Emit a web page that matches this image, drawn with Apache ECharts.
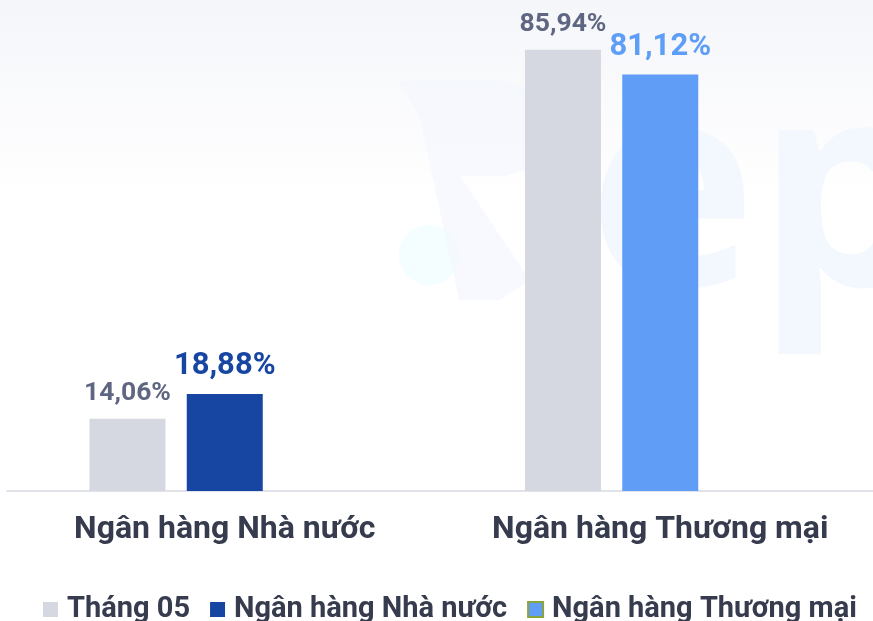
<!DOCTYPE html>
<html>
<head>
<meta charset="utf-8">
<script src="https://cdn.jsdelivr.net/npm/echarts@6/dist/echarts.min.js"></script>
<style>
html,body{margin:0;padding:0;background:#fff;}
#c{width:873px;height:621px;}
</style>
</head>
<body>
<div id="c"></div>
<script>
const categories = ['Ngân hàng Nhà nước', 'Ngân hàng Thương mại'];
const seriesNames = ['Tháng 05', 'Ngân hàng Nhà nước', 'Ngân hàng Thương mại'];
const thang05 = [14.06, 85.94];
const nhaNuoc = [18.88, '-'];
const thuongMai = ['-', 81.12];
const placeholder = ['-', '-'];

const fmt = p => p.value.toFixed(2).replace('.', ',') + '%';
const chart = echarts.init(document.getElementById('c'), null, {renderer: 'canvas'});
const FONT = 'Roboto';

chart.setOption({
  backgroundColor: '#ffffff',
  animation: false,
  textStyle: {fontFamily: FONT},
  graphic: [
    {type: 'rect', z: -10, silent: true, shape: {x: 0, y: 0, width: 873, height: 200},
      style: {fill: new echarts.graphic.LinearGradient(0, 0, 0, 1, [
        {offset: 0, color: '#f5f6fa'}, {offset: 1, color: '#ffffff'}])}},
    {type: 'circle', z: -9, silent: true, shape: {cx: 429, cy: 255, r: 30}, style: {fill: '#f4fdff'}},
    {type: 'polygon', z: -9, silent: true, shape: {points: [[399, 81], [505, 81], [530, 90], [545, 115], [545, 150], [530, 168], [505, 176], [460, 176], [530, 280], [500, 300], [459, 300], [420, 118], [399, 81]]}, style: {fill: '#f3f7fe', opacity: 0.7}},
    {type: 'text', z: -9, silent: true, left: 588, top: 62, style: {text: 'ep', font: 'bold 285px "Open Sans"', fill: '#f3f7fe'}}
  ],
  legend: {
    data: [
      {name: seriesNames[0]},
      {name: seriesNames[1]},
      {name: seriesNames[2], itemStyle: {borderColor: '#8aa43c', borderWidth: 2}}
    ],
    left: 38,
    top: 590,
    icon: 'rect',
    itemWidth: 15,
    itemHeight: 15,
    itemGap: 20,
    textStyle: {fontSize: 29, fontWeight: 'bold', color: '#363c4e', fontFamily: FONT, padding: [0, 0, 0, 4]}
  },
  grid: {left: 7, width: 871, top: 29, bottom: 130, containLabel: false, outerBoundsMode: 'none'},
  xAxis: {
    type: 'category',
    data: categories,
    axisLine: {show: true, lineStyle: {color: '#e2e3ea', width: 2}},
    axisTick: {show: false},
    axisLabel: {interval: 0, hideOverlap: false, fontSize: 32, fontWeight: 'bold', color: '#363c4e', margin: 23, fontFamily: FONT}
  },
  yAxis: {
    type: 'value', min: 0, max: 90,
    show: false,
    splitLine: {show: false}
  },
  series: [
    {name: seriesNames[0], type: 'bar', data: thang05, barWidth: 76, barGap: '28%',
      itemStyle: {color: '#d5d8e1'},
      label: {show: true, position: 'top', distance: 12, formatter: fmt, fontSize: 26.5, fontWeight: 'bold', color: '#5f6682', fontFamily: FONT}},
    {name: seriesNames[1], type: 'bar', stack: 's', data: nhaNuoc, barWidth: 76,
      itemStyle: {color: '#1746a2'},
      label: {show: true, position: 'top', distance: 12, formatter: fmt, fontSize: 31, fontWeight: 'bold', color: '#1746a2', fontFamily: FONT}},
    {name: seriesNames[2], type: 'bar', stack: 's', data: thuongMai, barWidth: 76,
      itemStyle: {color: '#5f9df7'},
      label: {show: true, position: 'top', distance: 12, formatter: fmt, fontSize: 31, fontWeight: 'bold', color: '#5f9ef6', fontFamily: FONT}},
    {name: '_', type: 'bar', data: placeholder, barWidth: 76}
  ]
});
</script>
</body>
</html>
